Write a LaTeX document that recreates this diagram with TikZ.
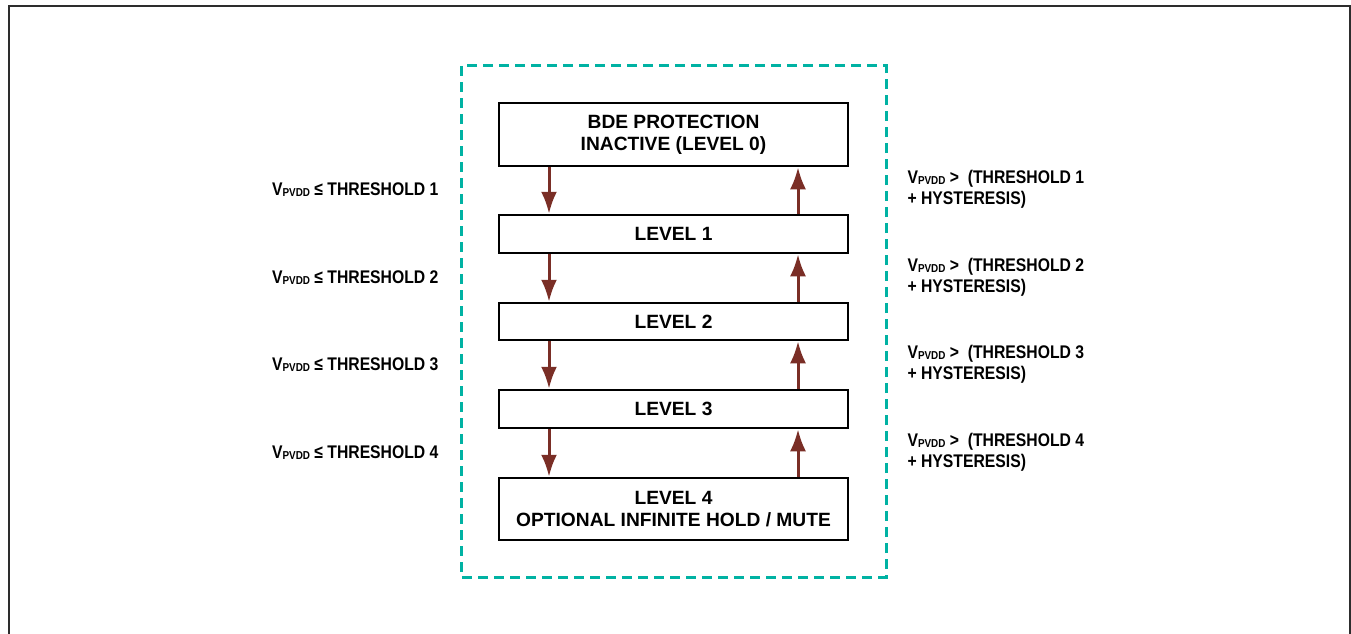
\documentclass[tikz,border=0pt]{standalone}
\usepackage{fontspec}
\setmainfont{Liberation Sans}
\newfontfamily\narrowfont[FakeStretch=0.86]{Liberation Sans}
\usetikzlibrary{arrows.meta,positioning}
\definecolor{bdeteal}{RGB}{0,178,163}
\definecolor{bdearrow}{RGB}{122,46,38}
\definecolor{bdeframe}{RGB}{45,45,45}
\newcommand{\vpvdd}{V\raisebox{-1pt}{\fontsize{11.5}{11.5}\selectfont PVDD}}

\begin{document}
\begin{tikzpicture}[x=1pt,y=-1pt]
	\tikzset{
		levelbox/.style={draw,line width=2.5pt,minimum width=349pt,inner sep=0pt,
			align=center,font=\fontsize{19.2}{22}\selectfont\bfseries},
		steparrow/.style={bdearrow,line width=3pt,-{Latex[length=22pt,width=16pt]}},
		condleft/.style={anchor=east,font=\narrowfont\bfseries\fontsize{18.3}{21}\selectfont},
		condright/.style={anchor=west,align=left,font=\narrowfont\bfseries\fontsize{18.3}{21}\selectfont}
	}
	\useasboundingbox (0,0) rectangle (1351,634);
	
	% outer frame and dashed block
	\draw[bdeframe,line width=2pt] (8.5,634) -- (8.5,6.5) -- (1350,6.5) -- (1350,634);
	\draw[bdeteal,line width=3pt,dash pattern=on 10pt off 6pt] (461,66) rectangle (886,577);
	
	% levels
	\node[levelbox,minimum height=63pt] (bde) at (673.5,134.5) {BDE PROTECTION\\INACTIVE (LEVEL 0)};
	\node[levelbox,minimum height=38pt] (l1) at (673.5,234) {LEVEL 1};
	\node[levelbox,minimum height=37pt] (l2) at (673.5,321.5) {LEVEL 2};
	\node[levelbox,minimum height=38pt] (l3) at (673.5,409) {LEVEL 3};
	\node[levelbox,minimum height=62pt] (l4) at (673.5,509) {LEVEL 4\\OPTIONAL INFINITE HOLD / MUTE};
	
	\coordinate (dn) at (549,0);
	\coordinate (up) at (798,0);
	
	\foreach \a/\b in {bde/l1,l1/l2,l2/l3,l3/l4}{
		\draw[steparrow] (\a.south -| dn) -- (\b.north -| dn);
		\draw[steparrow] (\b.north -| up) -- (\a.south -| up);
	}
	
	% conditions
	\node[condleft] (dn1) at (442,190) {\vpvdd\ ≤ THRESHOLD 1};
	\node[condleft] (dn2) at (442,278) {\vpvdd\ ≤ THRESHOLD 2};
	\node[condleft] (dn3) at (442,365) {\vpvdd\ ≤ THRESHOLD 3};
	\node[condleft] (dn4) at (442,453) {\vpvdd\ ≤ THRESHOLD 4};
	
	\node[condright] (up1) at (904,189) {\vpvdd\ >\ \ (THRESHOLD 1\\+ HYSTERESIS)};
	\node[condright] (up2) at (904,277) {\vpvdd\ >\ \ (THRESHOLD 2\\+ HYSTERESIS)};
	\node[condright] (up3) at (904,364) {\vpvdd\ >\ \ (THRESHOLD 3\\+ HYSTERESIS)};
	\node[condright] (up4) at (904,452) {\vpvdd\ >\ \ (THRESHOLD 4\\+ HYSTERESIS)};
\end{tikzpicture}
\end{document}
